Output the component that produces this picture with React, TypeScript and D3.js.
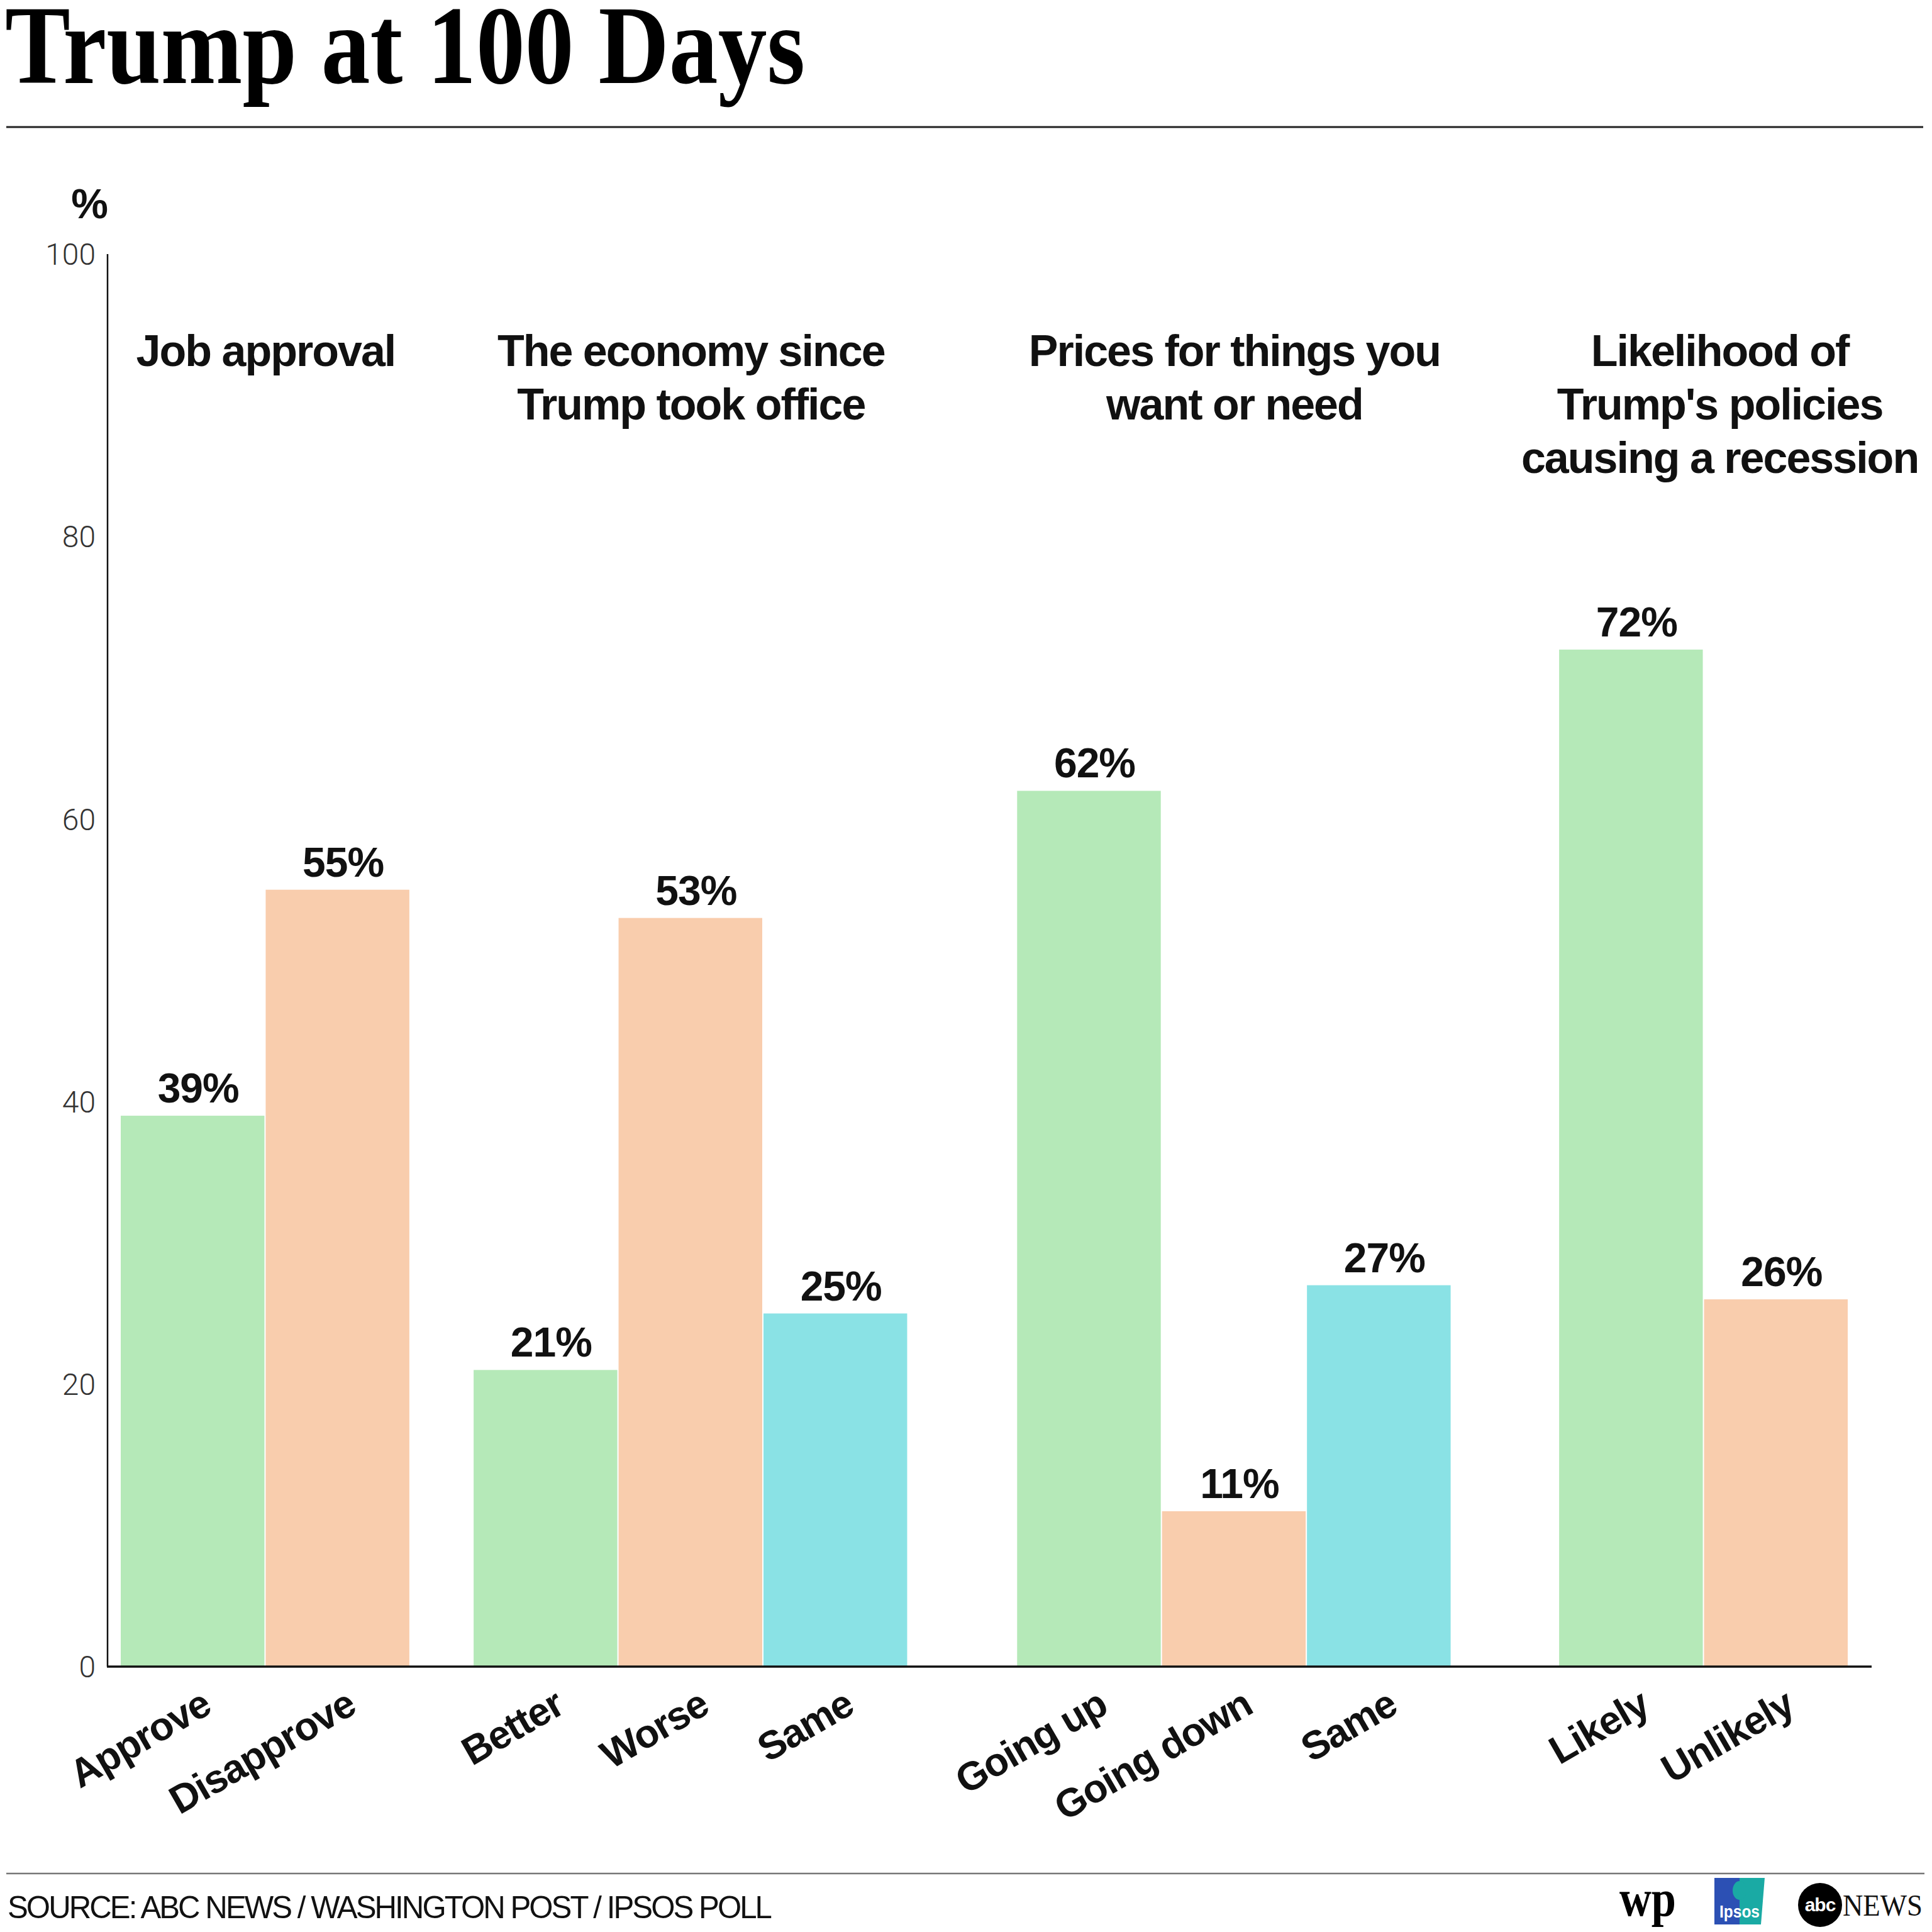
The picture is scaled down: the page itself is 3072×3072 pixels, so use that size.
import React from "react";
import * as d3 from "d3";

// ---------- data ----------
const TITLE = "Trump at 100 Days";
const groupTitles: string[][] = [
  ["Job approval"],
  ["The economy since", "Trump took office"],
  ["Prices for things you", "want or need"],
  ["Likelihood of", "Trump's policies", "causing a recession"],
];
const groupCategories: string[][] = [
  ["Approve", "Disapprove"],
  ["Better", "Worse", "Same"],
  ["Going up", "Going down", "Same"],
  ["Likely", "Unlikely"],
];
const groupValues: number[][] = [
  [39, 55],
  [21, 53, 25],
  [62, 11, 27],
  [72, 26],
];
const yTicks = [0, 20, 40, 60, 80, 100];
const SOURCE = "SOURCE: ABC NEWS / WASHINGTON POST / IPSOS POLL";

// ---------- style / layout ----------
const COLORS = ["#b5e9b8", "#f9cdad", "#8ae2e5"];
const GROUP_GAPS = [0.435, 0.75, 0.74]; // gap (in bar widths) after each group
const GROUP_TITLE_DX = [0, 0, 0, 25];
const W = 3072;
const H = 3072;
const AXIS_X = 171;
const AXIS_END = 2976;
const PLOT_L = 192;
const PLOT_R = 2940;
const Y_TOP = 404;
const Y_BOT = 2650;
const SANS = "'Liberation Sans', Arial, Helvetica, sans-serif";
const SERIF = "'Liberation Serif', 'Times New Roman', serif";

export default function App() {
  const bars: { cat: string; value: number; color: string; start: number; group: number }[] = [];
  const groupSpans: { start: number; end: number }[] = [];
  let cursor = 0;
  groupCategories.forEach((cats, gi) => {
    const gStart = cursor;
    cats.forEach((c, i) => {
      bars.push({ cat: c, value: groupValues[gi][i], color: COLORS[i], start: cursor, group: gi });
      cursor += 1;
    });
    groupSpans.push({ start: gStart, end: cursor });
    if (gi < GROUP_GAPS.length) cursor += GROUP_GAPS[gi];
  });

  const x = d3.scaleLinear().domain([0, cursor]).range([PLOT_L, PLOT_R]);
  const y = d3.scaleLinear().domain([0, 100]).range([Y_BOT, Y_TOP]);
  const unit = x(1) - x(0);

  return (
    <svg
      width={W}
      height={H}
      viewBox={`0 0 ${W} ${H}`}
      style={{ position: "absolute", left: 0, top: 0, background: "#fff" }}
    >
      <rect x={0} y={0} width={W} height={H} fill="#fff" />
      {/* Title */}
      <text
        x={8}
        y={132}
        fontFamily={SERIF}
        fontWeight={700}
        fontSize={178}
        textLength={1272}
        lengthAdjust="spacingAndGlyphs"
        fill="#000"
      >
        {TITLE}
      </text>
      <line x1={10} x2={3058} y1={202} y2={202} stroke="#222" strokeWidth={3} />

      {/* % label */}
      <text x={172} y={347} textAnchor="end" fontFamily={SANS} fontWeight={700} fontSize={66} fill="#111">
        %
      </text>

      {/* y tick labels */}
      {yTicks.map((t) => (
        <text
          key={t}
          x={152}
          y={y(t)}
          dy="0.36em"
          textAnchor="end"
          fontFamily="Roboto, 'Liberation Sans', sans-serif"
          fontWeight={300}
          fontSize={48}
          fill="#333"
        >
          {t}
        </text>
      ))}

      {/* bars */}
      {bars.map((b, i) => (
        <rect
          key={i}
          x={x(b.start)}
          y={y(b.value)}
          width={unit - 2}
          height={y(0) - y(b.value)}
          fill={b.color}
        />
      ))}

      {/* value labels */}
      {bars.map((b, i) => (
        <text
          key={"v" + i}
          x={x(b.start + 0.5) + 8}
          y={y(b.value) - 21}
          textAnchor="middle"
          fontFamily={SANS}
          fontWeight={700}
          fontSize={66}
          letterSpacing={-1}
          fill="#111"
        >
          {b.value}%
        </text>
      ))}

      {/* axes */}
      <line x1={AXIS_X} x2={AXIS_X} y1={Y_TOP} y2={Y_BOT} stroke="#111" strokeWidth={2.5} />
      <line x1={AXIS_X - 1} x2={AXIS_END} y1={Y_BOT} y2={Y_BOT} stroke="#111" strokeWidth={3.5} />

      {/* x category labels */}
      {bars.map((b, i) => {
        const cx = x(b.start + 0.5) + 32;
        const cy = Y_BOT + 72;
        return (
          <text
            key={"c" + i}
            transform={`translate(${cx},${cy}) rotate(-30)`}
            textAnchor="end"
            fontFamily={SANS}
            fontWeight={700}
            fontSize={63}
            letterSpacing={-1.5}
            fill="#111"
          >
            {b.cat}
          </text>
        );
      })}

      {/* group titles */}
      {groupSpans.map((g, gi) => {
        const cx = (x(g.start) + x(g.end)) / 2 + GROUP_TITLE_DX[gi];
        return (
          <text
            key={"g" + gi}
            x={cx}
            y={582}
            textAnchor="middle"
            fontFamily={SANS}
            fontWeight={700}
            fontSize={70}
            letterSpacing={-2}
            fill="#111"
          >
            {groupTitles[gi].map((line, li) => (
              <tspan key={li} x={cx} y={582 + li * 85}>
                {line}
              </tspan>
            ))}
          </text>
        );
      })}

      {/* footer */}
      <line x1={10} x2={3060} y1={2979} y2={2979} stroke="#777" strokeWidth={2.5} />
      <text
        x={12}
        y={3050}
        fontFamily={SANS}
        fontSize={50}
        letterSpacing={-3}
        textLength={1213}
        lengthAdjust="spacingAndGlyphs"
        fill="#111"
      >
        {SOURCE}
      </text>

      {/* logos */}
      <text
        x={2620}
        y={3046}
        textAnchor="middle"
        fontFamily={SERIF}
        fontWeight={700}
        fontSize={82}
        textLength={90}
        lengthAdjust="spacingAndGlyphs"
        fill="#000"
      >
        wp
      </text>
      <g>
        <path d="M2726,2986 L2766,2986 L2766,3060 L2726,3060 Z" fill="#2c50b4" />
        <path d="M2766,2986 L2806,2986 L2800,3060 L2766,3060 Z" fill="#1aaaa4" />
        <ellipse cx={2766} cy={3006} rx={11} ry={15} fill="#1aaaa4" />
        <text
          x={2766}
          y={3049}
          textAnchor="middle"
          fontFamily={SANS}
          fontWeight={700}
          fontSize={28}
          textLength={64}
          lengthAdjust="spacingAndGlyphs"
          fill="#fff"
        >
          Ipsos
        </text>
      </g>
      <g>
        <circle cx={2894} cy={3029} r={35} fill="#000" />
        <text
          x={2894}
          y={3039}
          textAnchor="middle"
          fontFamily={SANS}
          fontWeight={700}
          fontSize={30}
          letterSpacing={-1}
          fill="#fff"
        >
          abc
        </text>
        <text
          x={2930}
          y={3046}
          fontFamily={SERIF}
          fontSize={48}
          textLength={127}
          lengthAdjust="spacingAndGlyphs"
          fill="#111"
        >
          NEWS
        </text>
      </g>
    </svg>
  );
}
